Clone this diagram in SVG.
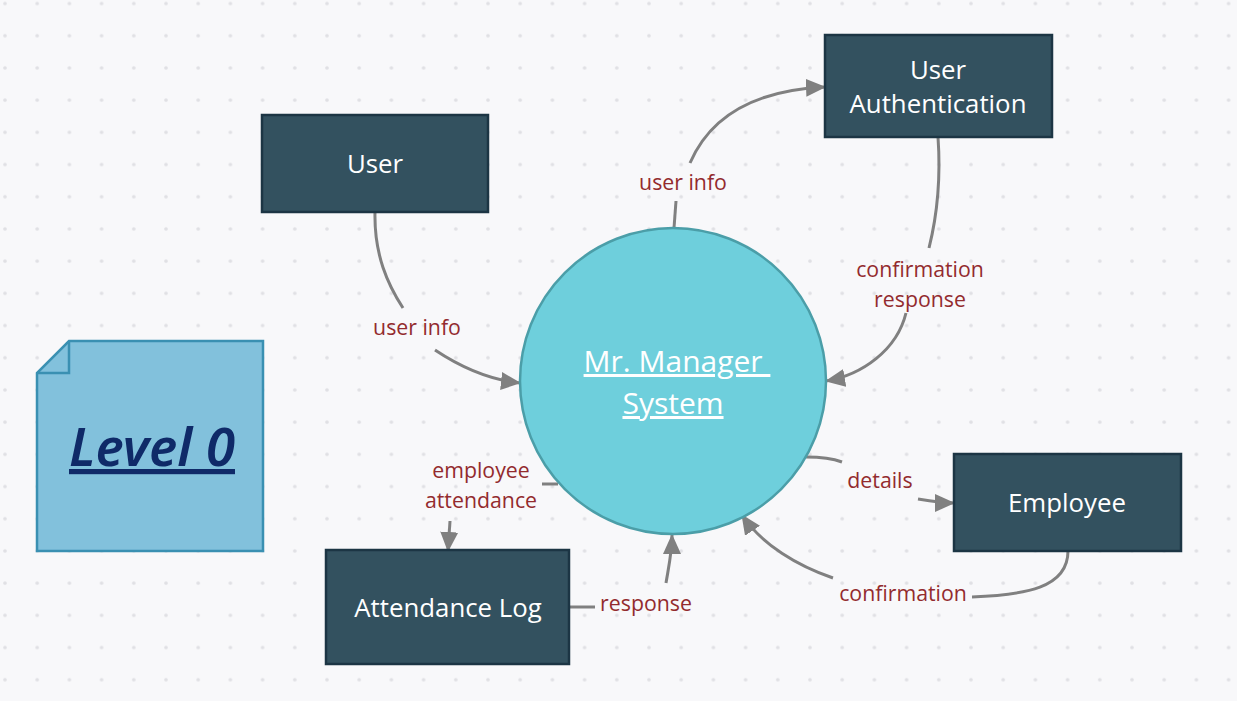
<svg xmlns="http://www.w3.org/2000/svg" width="1237" height="701" viewBox="0 0 1237 701">
<defs>
<pattern id="dots" x="5" y="3.5" width="32.2" height="32.2" patternUnits="userSpaceOnUse">
<circle cx="0" cy="0" r="1.8" fill="#e0e0e4"/><circle cx="32.2" cy="0" r="1.8" fill="#e0e0e4"/><circle cx="0" cy="32.2" r="1.8" fill="#e0e0e4"/><circle cx="32.2" cy="32.2" r="1.8" fill="#e0e0e4"/>
</pattern>
<marker id="arr" viewBox="0 0 20 18" refX="19" refY="9" markerWidth="20" markerHeight="18" markerUnits="userSpaceOnUse" orient="auto">
<path d="M0,0 L20,9 L0,18 Z" fill="#808080"/>
</marker>
<style>
.box{fill:#33515f;stroke:#1c3544;stroke-width:2.5}
.nt{font-family:"Open Sans","Noto Sans",sans-serif;font-size:25.8px;fill:#ffffff;text-anchor:middle}
.lb{font-family:"Open Sans","Noto Sans",sans-serif;font-size:21.3px;fill:#932b2e;text-anchor:middle}
.ln{fill:none;stroke:#808080;stroke-width:3}
</style>
</defs>
<rect width="1237" height="701" fill="#f8f8fa"/>
<rect width="1237" height="701" fill="url(#dots)"/>

<g id="connectors">
<path class="ln" d="M375,212 C374,255 388,285 403,308"/>
<path class="ln" d="M435,350 C462,368 492,380 520,383" marker-end="url(#arr)"/>
<path class="ln" d="M674,228 L676,201"/>
<path class="ln" d="M690,163 C712,112 760,90 825,87" marker-end="url(#arr)"/>
<path class="ln" d="M938,137 C941,180 936,220 929,248"/>
<path class="ln" d="M906,313 C897,350 862,375 826,381" marker-end="url(#arr)"/>
<path class="ln" d="M806,457 C820,457 834,459 842,462"/>
<path class="ln" d="M918,499 C930,501 942,503 954,503" marker-end="url(#arr)"/>
<path class="ln" d="M1068,551 C1068,588 1025,595 972,597"/>
<path class="ln" d="M833,578 C798,566 762,545 742,515" marker-end="url(#arr)"/>
<path class="ln" d="M558,484 L542,484"/>
<path class="ln" d="M450,521 L448,551" marker-end="url(#arr)"/>
<path class="ln" d="M569,607 L595,607"/>
<path class="ln" d="M666,583 C669,565 672,552 672,535" marker-end="url(#arr)"/>
</g>

<g id="labels">
<text class="lb" x="417" y="335">user info</text>
<text class="lb" x="683" y="190">user info</text>
<text class="lb" x="920" y="277">confirmation</text>
<text class="lb" x="920" y="307">response</text>
<text class="lb" x="880" y="488">details</text>
<text class="lb" x="903" y="601">confirmation</text>
<text class="lb" x="481" y="478">employee</text>
<text class="lb" x="481" y="508">attendance</text>
<text class="lb" x="646" y="611">response</text>
</g>

<g id="level0">
<path d="M69,341 L263,341 L263,551 L37,551 L37,373 Z" fill="#82c1dc" stroke="#3a90b2" stroke-width="2.5"/>
<path d="M69,341 L69,373 L37,373" fill="none" stroke="#3a90b2" stroke-width="2.5"/>
<text x="69" y="466" font-family="'Noto Sans','Open Sans',sans-serif" font-size="52" font-style="italic" font-weight="600" fill="#0f2a68" text-decoration="underline" textLength="166" lengthAdjust="spacingAndGlyphs">Level 0</text>
</g>

<g id="system">
<circle cx="673" cy="381" r="153" fill="#6ecfdc" stroke="#4b9ea8" stroke-width="2.5"/>
<text x="677" y="372" font-family="'Open Sans','Noto Sans',sans-serif" font-size="30" font-weight="500" fill="#ffffff" text-anchor="middle" text-decoration="underline" xml:space="preserve">Mr. Manager </text>
<text x="673" y="414" font-family="'Open Sans','Noto Sans',sans-serif" font-size="30" font-weight="500" fill="#ffffff" text-anchor="middle" text-decoration="underline">System</text>
</g>

<g id="user">
<rect class="box" x="262" y="115" width="226" height="97"/>
<text class="nt" x="375" y="173">User</text>
</g>

<g id="user-authentication">
<rect class="box" x="825" y="35" width="227" height="102"/>
<text class="nt" x="938" y="79">User</text>
<text class="nt" x="938" y="113">Authentication</text>
</g>

<g id="employee">
<rect class="box" x="954" y="454" width="227" height="97"/>
<text class="nt" x="1067" y="512">Employee</text>
</g>

<g id="attendance-log">
<rect class="box" x="326" y="550" width="243" height="114"/>
<text class="nt" x="448" y="617">Attendance Log</text>
</g>
</svg>
